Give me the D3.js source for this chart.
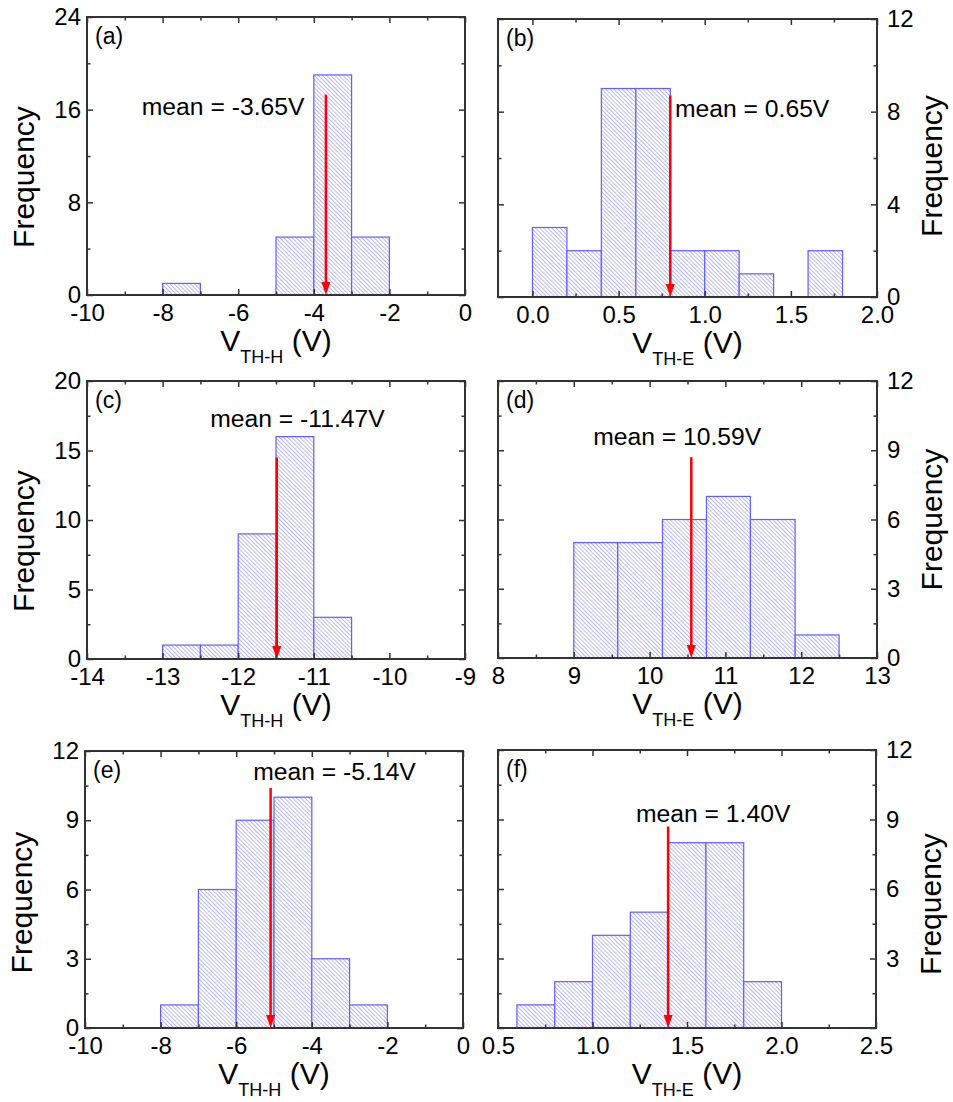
<!DOCTYPE html>
<html>
<head>
<meta charset="utf-8">
<title>Threshold voltage histograms</title>
<script src="https://cdnjs.cloudflare.com/ajax/libs/d3/7.8.5/d3.min.js"></script>
<style>
  body { margin: 0; background: #fff; }
  svg text { font-family: "Liberation Sans", Arial, sans-serif; fill: #000; }
  .bar { fill: url(#hatch); stroke: #6060ff; stroke-width: 1.2px; }
  .frame { fill: none; stroke: #333; stroke-width: 2px; }
  .tick line { stroke: #333; stroke-width: 1.5px; }
  .arrow { stroke: #ff0000; stroke-width: 2.5px; }
  .arrowhead { fill: #ff0000; }
</style>
</head>
<body>
<div id="chart"></div>
<script>
// histogram bins: edges and counts
var edgesA = [-8, -7, -6, -5, -4, -3, -2];
var countsA = [1, 0, 0, 5, 19, 5];
var edgesB = [0, 0.2, 0.4, 0.6, 0.8, 1.0, 1.2, 1.4, 1.6, 1.8];
var countsB = [3, 2, 9, 9, 2, 2, 1, 0, 2];
var edgesC = [-13, -12.5, -12, -11.5, -11, -10.5];
var countsC = [1, 1, 9, 16, 3];
var edgesD = [9, 9.58, 10.17, 10.75, 11.33, 11.92, 12.5];
var countsD = [5, 5, 6, 7, 6, 1];
var edgesE = [-8, -7, -6, -5, -4, -3, -2];
var countsE = [1, 6, 9, 10, 3, 1];
var edgesF = [0.6, 0.8, 1.0, 1.2, 1.4, 1.6, 1.8, 2.0];
var countsF = [1, 2, 4, 5, 8, 8, 2];

// mean arrows (x position, top of arrow in counts) and their labels
var arrowX = [-3.68, 0.8, -11.49, 10.55, -5.09, 1.40];
var arrowTop = [17.3, 8.7, 14.5, 8.7, 10.4, 8.7];
var meanLabels = ["mean = -3.65V", "mean = 0.65V", "mean = -11.47V",
                  "mean = 10.59V", "mean = -5.14V", "mean = 1.40V"];
var panelLetters = ["(a)", "(b)", "(c)", "(d)", "(e)", "(f)"];

// axes
var xDomains = [[-10, 0], [-0.2, 2.0], [-14, -9], [8, 13], [-10, 0], [0.5, 2.5]];
var yDomains = [[0, 24], [0, 12], [0, 20], [0, 12], [0, 12], [0, 12]];
var xTicks = [[-10, -8, -6, -4, -2, 0], [0, 0.5, 1, 1.5, 2], [-14, -13, -12, -11, -10, -9],
              [8, 9, 10, 11, 12, 13], [-10, -8, -6, -4, -2, 0], [0.5, 1, 1.5, 2, 2.5]];
var xTickLabels = [["-10", "-8", "-6", "-4", "-2", "0"], ["0.0", "0.5", "1.0", "1.5", "2.0"],
                   ["-14", "-13", "-12", "-11", "-10", "-9"], ["8", "9", "10", "11", "12", "13"],
                   ["-10", "-8", "-6", "-4", "-2", "0"], ["0.5", "1.0", "1.5", "2.0", "2.5"]];
var yTicks = [[0, 8, 16, 24], [0, 4, 8, 12], [0, 5, 10, 15, 20], [0, 3, 6, 9, 12], [0, 3, 6, 9, 12], [0, 3, 6, 9, 12]];
var yTickLabels = [["0", "8", "16", "24"], ["0", "4", "8", "12"], ["0", "5", "10", "15", "20"],
                   ["0", "3", "6", "9", "12"], ["0", "3", "6", "9", "12"], ["", "3", "6", "9", "12"]];
var xTitleSub = ["TH-H", "TH-E", "TH-H", "TH-E", "TH-H", "TH-E"];

// layout of the six panels
var layout = [
  { left: 87, top: 17, w: 378, h: 278, side: "left", labX: -8.55, labY: 15.53, freqOff: 21 },
  { left: 498, top: 19, w: 379, h: 278, side: "right", labX: 0.827, labY: 7.78, freqOff: 8 },
  { left: 87, top: 381, w: 378, h: 278, side: "left", labX: -12.37, labY: 16.71, freqOff: 21 },
  { left: 498, top: 381, w: 379, h: 277, side: "right", labX: 9.255, labY: 9.23, freqOff: 0 },
  { left: 85, top: 751, w: 378, h: 277, side: "left", labX: -5.55, labY: 10.73, freqOff: 13 },
  { left: 498, top: 750, w: 378, h: 278, side: "right", labX: 1.23, labY: 8.9, freqOff: 15 }
];
var allEdges = [edgesA, edgesB, edgesC, edgesD, edgesE, edgesF];
var allCounts = [countsA, countsB, countsC, countsD, countsE, countsF];

var svg = d3.select("#chart").append("svg")
  .attr("width", 953)
  .attr("height", 1102);

// diagonal hatch (top-left to bottom-right)
var pattern = svg.append("defs").append("pattern")
  .attr("id", "hatch")
  .attr("patternUnits", "userSpaceOnUse")
  .attr("width", 2.9)
  .attr("height", 10)
  .attr("patternTransform", "rotate(-45)");
pattern.append("rect").attr("width", 2.9).attr("height", 10).attr("fill", "#fff");
pattern.append("rect")
  .attr("x", 0)
  .attr("width", 0.7)
  .attr("height", 10)
  .attr("fill", "#9a9af2");

function midpoints(t) {
  var m = [];
  for (var i = 0; i < t.length - 1; i++) m.push((t[i] + t[i + 1]) / 2);
  return m;
}

function styleAxis(sel, size) {
  sel.select(".domain").remove();
  sel.selectAll("text")
    .attr("font-size", size)
    .attr("font-family", "'Liberation Sans', Arial, sans-serif")
    .attr("fill", "#000");
}

layout.forEach(function (p, i) {
  var g = svg.append("g").attr("transform", "translate(" + p.left + "," + p.top + ")");
  var x = d3.scaleLinear().domain(xDomains[i]).range([0, p.w]);
  var y = d3.scaleLinear().domain(yDomains[i]).range([p.h, 0]);

  var bins = allCounts[i].map(function (c, k) {
    return { x0: allEdges[i][k], x1: allEdges[i][k + 1], n: c };
  }).filter(function (d) { return d.n > 0; });

  g.selectAll(".bar")
    .data(bins)
    .enter()
    .append("rect")
    .attr("class", "bar")
    .attr("x", function (d) { return x(d.x0); })
    .attr("width", function (d) { return x(d.x1) - x(d.x0); })
    .attr("y", function (d) { return y(d.n); })
    .attr("height", function (d) { return y(0) - y(d.n); });

  // mean arrow
  var ax = x(arrowX[i]);
  g.append("line")
    .attr("class", "arrow")
    .attr("x1", ax).attr("x2", ax)
    .attr("y1", y(arrowTop[i])).attr("y2", y(0) - 10);
  g.append("path")
    .attr("class", "arrowhead")
    .attr("d", "M" + ax + "," + y(0) + " L" + (ax - 4.5) + "," + (y(0) - 13) + " L" + (ax + 4.5) + "," + (y(0) - 13) + " Z");

  // ticks on all four sides, pointing inward
  var xMinor = midpoints(xTicks[i]);
  var yMinor = midpoints(yTicks[i]);

  g.append("g").attr("transform", "translate(0," + p.h + ")")
    .call(d3.axisBottom(x).tickValues(xTicks[i]).tickSize(-6).tickPadding(9)
      .tickFormat(function (d, k) { return xTickLabels[i][k]; }))
    .call(styleAxis, 24);
  g.append("g").attr("transform", "translate(0," + p.h + ")")
    .call(d3.axisBottom(x).tickValues(xMinor).tickSize(-3.5).tickFormat(""))
    .call(styleAxis, 24);
  g.append("g")
    .call(d3.axisTop(x).tickValues(xTicks[i]).tickSize(-6).tickFormat(""))
    .call(styleAxis, 24);
  g.append("g")
    .call(d3.axisTop(x).tickValues(xMinor).tickSize(-3.5).tickFormat(""))
    .call(styleAxis, 24);

  var left = p.side === "left";
  var labelled = left ? d3.axisLeft(y).tickPadding(6) : d3.axisRight(y).tickPadding(10);
  var minorSame = left ? d3.axisLeft(y) : d3.axisRight(y);
  var other = left ? d3.axisRight(y) : d3.axisLeft(y);
  var minorOther = left ? d3.axisRight(y) : d3.axisLeft(y);
  var lx = left ? 0 : p.w;
  var ox = left ? p.w : 0;

  g.append("g").attr("transform", "translate(" + lx + ",0)")
    .call(labelled.tickValues(yTicks[i]).tickSize(-6)
      .tickFormat(function (d, k) { return yTickLabels[i][k]; }))
    .call(styleAxis, 24);
  g.append("g").attr("transform", "translate(" + lx + ",0)")
    .call(minorSame.tickValues(yMinor).tickSize(-3.5).tickFormat(""))
    .call(styleAxis, 24);
  g.append("g").attr("transform", "translate(" + ox + ",0)")
    .call(other.tickValues(yTicks[i]).tickSize(-6).tickFormat(""))
    .call(styleAxis, 24);
  g.append("g").attr("transform", "translate(" + ox + ",0)")
    .call(minorOther.tickValues(yMinor).tickSize(-3.5).tickFormat(""))
    .call(styleAxis, 24);

  g.append("rect")
    .attr("class", "frame")
    .attr("width", p.w)
    .attr("height", p.h);

  // texts
  g.append("text")
    .attr("x", 8)
    .attr("y", 27)
    .attr("font-size", 23)
    .text(panelLetters[i]);

  g.append("text")
    .attr("x", x(p.labX))
    .attr("y", y(p.labY))
    .attr("font-size", 24.7)
    .text(meanLabels[i]);

  var title = g.append("text")
    .attr("x", p.w / 2)
    .attr("y", p.h + 56)
    .attr("text-anchor", "middle")
    .attr("font-size", 30);
  title.append("tspan").text("V");
  title.append("tspan").attr("font-size", 18).attr("dy", 12).text(xTitleSub[i]);
  title.append("tspan").attr("dy", -12).text(" (V)");

  var fx = left ? -53 : p.w + 65;
  g.append("text")
    .attr("transform", "translate(" + fx + "," + (p.h / 2 + p.freqOff) + ") rotate(-90)")
    .attr("text-anchor", "middle")
    .attr("font-size", 30)
    .text("Frequency");
});
</script>
</body>
</html>
